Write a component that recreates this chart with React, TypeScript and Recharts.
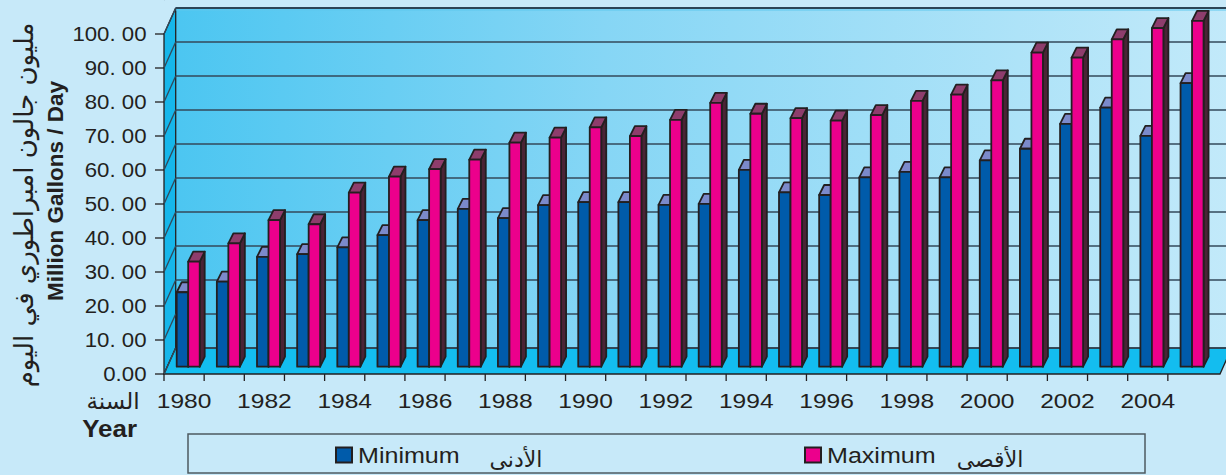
import React from 'react';
import { BarChart, Bar, XAxis, YAxis, CartesianGrid } from 'recharts';

const years = [
  1980, 1981, 1982, 1983, 1984, 1985, 1986, 1987, 1988, 1989, 1990, 1991, 1992,
  1993, 1994, 1995, 1996, 1997, 1998, 1999, 2000, 2001, 2002, 2003, 2004, 2005,
];
const minimum = [
  21.9, 25.0, 32.3, 33.1, 35.1, 38.7, 43.1, 46.4, 43.7, 47.5, 48.4, 48.4, 47.6,
  47.9, 57.9, 51.3, 50.5, 55.7, 57.3, 55.7, 60.7, 64.1, 71.4, 76.2, 67.9, 83.4,
];
const maximum = [
  30.9, 36.3, 43.1, 41.9, 51.2, 55.9, 58.1, 60.9, 65.9, 67.4, 70.4, 67.8, 72.6,
  77.6, 74.4, 73.1, 72.4, 74.0, 78.2, 80.0, 84.2, 92.4, 90.9, 96.3, 99.6, 101.7,
];
const yTicks = [0, 10, 20, 30, 40, 50, 60, 70, 80, 90, 100];
const seriesKeys = ['min', 'max'];
const seriesNames = ['Minimum', 'Maximum'];
const seriesNamesAr = ['الأدنى', 'الأقصى'];

const data = years.map((y, i) => ({ year: y, min: minimum[i], max: maximum[i] }));

// layout
const W = 1226;
const H = 475;
const PLOT_LEFT = 164;
const PLOT_RIGHT = 1208;
const PLOT_BOTTOM = 374;
const BAND = (PLOT_RIGHT - PLOT_LEFT) / years.length;
const WALL_DX = 11.7;
const WALL_DY = -26;
const BAR_DX = 3.7;
const BAR_DY = -7.3;
const TOP_DX = 5;
const TOP_DY = -10;
const INK = '#231f20';
const STRETCH = 1.14;

const colors = {
  min: { front: '#005baa', top: '#7b8acb', side: '#1c3766' },
  max: { front: '#ec008c', top: '#8e3d6c', side: '#4a2436' },
};

const makeShape = (c: { front: string; top: string; side: string }) => (props: any) => {
  const { x, y, width, height } = props;
  if (height == null || width == null) return <g />;
  const fx = x + BAR_DX;
  const fy = y + BAR_DY;
  const w = width;
  const h = height;
  return (
    <g stroke={INK} strokeWidth={1.8} strokeLinejoin="round">
      <polygon
        points={`${fx + w},${fy} ${fx + w + TOP_DX},${fy + TOP_DY} ${fx + w + TOP_DX},${fy + h + TOP_DY} ${fx + w},${fy + h}`}
        fill={c.side}
      />
      <polygon
        points={`${fx},${fy} ${fx + TOP_DX},${fy + TOP_DY} ${fx + w + TOP_DX},${fy + TOP_DY} ${fx + w},${fy}`}
        fill={c.top}
      />
      <rect x={fx} y={fy} width={w} height={h} fill={c.front} />
    </g>
  );
};

const YTick = (props: any) => {
  const { y, payload } = props;
  const v = payload.value;
  const label = v === 0 ? '0.00' : `${v}. 00`;
  return (
    <text
      transform={`translate(${PLOT_LEFT - 17.5},${y + 7}) scale(${STRETCH},1)`}
      textAnchor="end"
      fontSize={19.5}
      fill={INK}
      fontFamily="'Liberation Sans', Arial, sans-serif"
    >
      {label}
    </text>
  );
};

const XTick = (props: any) => {
  const { x, payload, index } = props;
  const left = x - BAND / 2;
  return (
    <g>
      <line x1={left} y1={PLOT_BOTTOM} x2={left} y2={PLOT_BOTTOM + 7} stroke={INK} strokeWidth={1.3} />
      {index % 2 === 0 && (
        <text
          transform={`translate(${x},${PLOT_BOTTOM + 33.5}) scale(1.17,1)`}
          textAnchor="middle"
          fontSize={21}
          fill={INK}
          fontFamily="'Liberation Sans', Arial, sans-serif"
        >
          {payload.value}
        </text>
      )}
    </g>
  );
};

const gridLine = (props: any) => {
  const { x1, x2, y1, index } = props;
  return (
    <g key={`g-${index}-${y1}`} stroke="#33495a" strokeWidth={1.3}>
      <line x1={x1} y1={y1} x2={x1 + WALL_DX} y2={y1 + WALL_DY} />
      <line x1={x1 + WALL_DX} y1={y1 + WALL_DY} x2={x2 + WALL_DX + 30} y2={y1 + WALL_DY} />
    </g>
  );
};

const Walls = () => {
  const backTop = 34 + WALL_DY;
  const backBottom = PLOT_BOTTOM + WALL_DY;
  return (
    <svg width={W} height={H} style={{ position: 'absolute', left: 0, top: 0 }}>
      <defs>
        <linearGradient id="backWall" x1="0" y1="0" x2="1" y2="0">
          <stop offset="0%" stopColor="#4cc6f1" />
          <stop offset="35%" stopColor="#86d6f5" />
          <stop offset="100%" stopColor="#d3effb" />
        </linearGradient>
      </defs>
      <rect x={PLOT_LEFT + WALL_DX} y={backTop} width={W} height={backBottom - backTop} fill="url(#backWall)" />
      <polygon
        points={`${PLOT_LEFT},34 ${PLOT_LEFT + WALL_DX},${backTop} ${PLOT_LEFT + WALL_DX},${backBottom} ${PLOT_LEFT},${PLOT_BOTTOM}`}
        fill="#16b6ea"
        stroke={INK}
        strokeWidth={1.3}
      />
      <polygon
        points={`${PLOT_LEFT},${PLOT_BOTTOM} ${PLOT_RIGHT + 12},${PLOT_BOTTOM} ${PLOT_RIGHT + 12 + WALL_DX},${backBottom} ${PLOT_LEFT + WALL_DX},${backBottom}`}
        fill="#13bdef"
        stroke={INK}
        strokeWidth={1.3}
      />
      <line x1={PLOT_LEFT + WALL_DX} y1={backTop} x2={W} y2={backTop} stroke="#1a3b4d" strokeWidth={2} />
      <line x1={PLOT_LEFT + WALL_DX} y1={backTop + 2} x2={W} y2={backTop + 2} stroke="#5fc7ee" strokeWidth={1} />
    </svg>
  );
};

const Labels = () => (
  <svg width={W} height={H} style={{ position: 'absolute', left: 0, top: 0 }}>
    <text
      transform="translate(33,205) rotate(-90)"
      textAnchor="middle"
      fontSize={26}
      fill={INK}
      fontFamily="'DejaVu Sans', sans-serif"
    >
      مليون جالون امبراطوري في اليوم
    </text>
    <text
      transform="translate(63,191) rotate(-90)"
      textAnchor="middle"
      fontSize={22.5}
      fontWeight="bold"
      fill={INK}
      fontFamily="'Liberation Sans', Arial, sans-serif"
    >
      Million Gallons / Day
    </text>
    <text x={113} y={409} textAnchor="middle" fontSize={23} fill={INK} fontFamily="'DejaVu Sans', sans-serif">
      السنة
    </text>
    <text
      transform="translate(137,437) scale(1.08,1)"
      textAnchor="end"
      fontSize={24}
      fontWeight="bold"
      fill={INK}
      fontFamily="'Liberation Sans', Arial, sans-serif"
    >
      Year
    </text>
    <rect x={188} y={434} width={957} height={39} fill="none" stroke="#4d5a60" strokeWidth={1.5} />
    {seriesKeys.map((k, i) => {
      const sx = i === 0 ? 335 : 804;
      const arX = i === 0 ? 516 : 990;
      const c = colors[k as 'min' | 'max'];
      return (
        <g key={k}>
          <rect x={sx + 1} y={447.5} width={16} height={15} fill={c.front} stroke={INK} strokeWidth={2} />
          <text
            transform={`translate(${sx + 23},462.5) scale(${STRETCH},1)`}
            fontSize={22}
            fill={INK}
            fontFamily="'Liberation Sans', Arial, sans-serif"
          >
            {seriesNames[i]}
          </text>
          <text x={arX} y={467} textAnchor="middle" fontSize={22} fill={INK} fontFamily="'DejaVu Sans', sans-serif">
            {seriesNamesAr[i]}
          </text>
        </g>
      );
    })}
  </svg>
);

export default function App() {
  return (
    <div
      style={{
        position: 'absolute',
        left: 0,
        top: 0,
        width: W,
        height: H,
        background: '#c7e9f9',
        overflow: 'hidden',
      }}
    >
      <Walls />
      <div style={{ position: 'absolute', left: 0, top: 0 }}>
        <BarChart
          width={W}
          height={H}
          data={data}
          margin={{ top: 0, right: W - PLOT_RIGHT, bottom: H - PLOT_BOTTOM - 40, left: PLOT_LEFT - 100 }}
          barGap={0}
          barSize={11.5}
        >
          <CartesianGrid vertical={false} horizontal={gridLine} />
          <XAxis dataKey="year" interval={0} tick={<XTick />} tickLine={false} axisLine={false} height={40} />
          <YAxis
            width={100}
            domain={[0, 110]}
            ticks={yTicks}
            tick={<YTick />}
            tickSize={9}
            tickLine={{ stroke: INK, strokeWidth: 1.3 }}
            axisLine={false}
          />
          {seriesKeys.map((k, i) => (
            <Bar
              key={k}
              dataKey={k}
              name={seriesNames[i]}
              fill={colors[k as 'min' | 'max'].front}
              shape={makeShape(colors[k as 'min' | 'max'])}
              isAnimationActive={false}
            />
          ))}
        </BarChart>
      </div>
      <Labels />
    </div>
  );
}
